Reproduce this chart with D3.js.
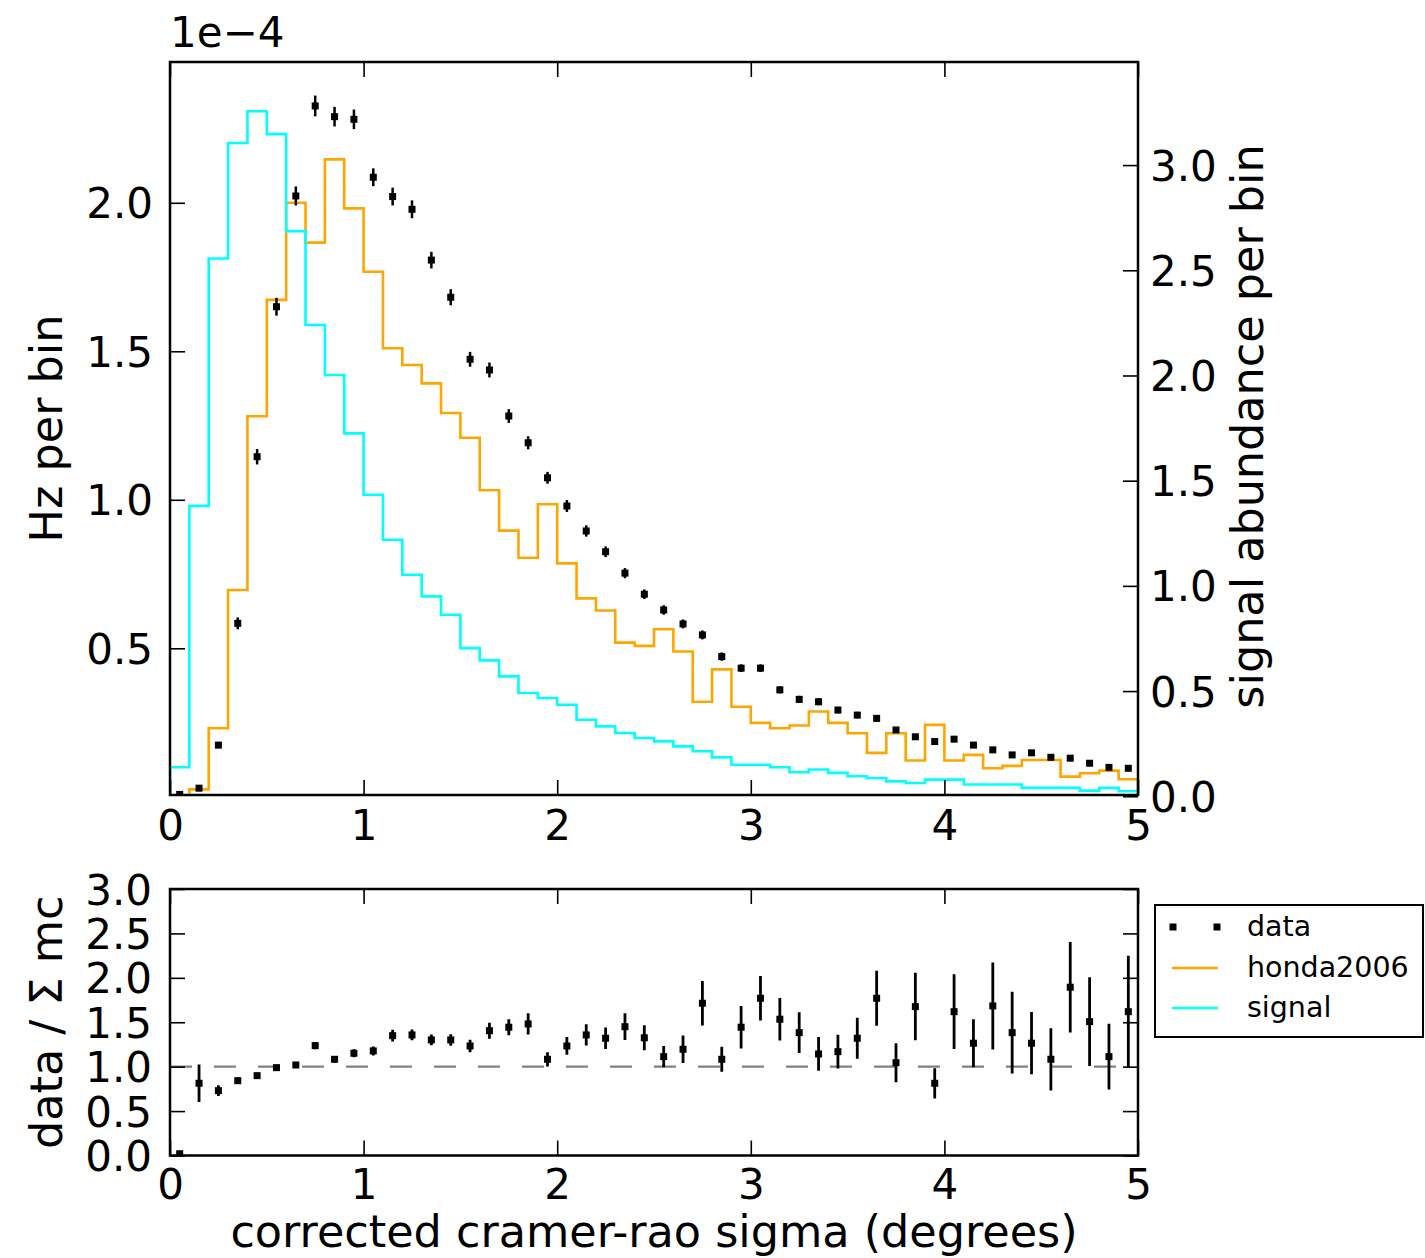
<!DOCTYPE html>
<html><head><meta charset="utf-8">
<script src="https://cdn.jsdelivr.net/npm/d3@7"></script>
<style>
body{margin:0;background:#fff}
text{font-family:"DejaVu Sans",sans-serif;fill:#000}
</style>
</head><body>
<svg id="c" width="1425" height="1258"></svg>
<script>
// ---------------- data ----------------
const binLow = [0.0,0.1,0.2,0.3,0.4,0.5,0.6,0.7,0.8,0.9,1.0,1.1,1.2,1.3,1.4,1.5,1.6,1.7,1.8,1.9,
  2.0,2.1,2.2,2.3,2.4,2.5,2.6,2.7,2.8,2.9,3.0,3.1,3.2,3.3,3.4,3.5,3.6,3.7,3.8,3.9,
  4.0,4.1,4.2,4.3,4.4,4.5,4.6,4.7,4.8,4.9];
const binWidth = 0.1;
const dataHz = [0.008,0.029,0.174,0.584,1.145,1.650,2.023,2.326,2.290,2.281,2.086,2.021,1.978,1.807,1.682,1.473,1.437,1.282,1.192,1.074,
  0.979,0.895,0.825,0.753,0.682,0.629,0.582,0.545,0.472,0.433,0.433,0.360,0.328,0.320,0.292,0.275,0.264,0.225,0.202,0.186,
  0.194,0.174,0.158,0.141,0.148,0.133,0.130,0.113,0.099,0.096];
const dataErr = [0.003,0.006,0.010,0.020,0.026,0.030,0.032,0.035,0.033,0.033,0.030,0.030,0.030,0.028,0.027,0.025,0.025,0.023,0.022,0.020,
  0.020,0.019,0.018,0.017,0.016,0.016,0.015,0.015,0.014,0.013,0.013,0.012,0.012,0.012,0.011,0.011,0.010,0.010,0.009,0.009,
  0.009,0.009,0.008,0.008,0.008,0.008,0.008,0.007,0.007,0.007];
const honda2006 = [0.005,0.025,0.231,0.696,1.281,1.673,2.000,1.866,2.146,1.981,1.768,1.510,1.454,1.392,1.292,1.209,1.032,0.896,0.805,0.985,
  0.786,0.668,0.627,0.519,0.508,0.564,0.489,0.320,0.429,0.303,0.249,0.231,0.240,0.287,0.249,0.214,0.148,0.214,0.122,0.242,
  0.122,0.141,0.096,0.104,0.124,0.124,0.068,0.079,0.088,0.059];
const signal = [0.138,1.380,2.556,3.105,3.256,3.147,2.686,2.240,2.002,1.725,1.433,1.219,1.053,0.950,0.863,0.704,0.646,0.570,0.491,0.467,
  0.435,0.364,0.332,0.301,0.277,0.261,0.237,0.214,0.185,0.150,0.150,0.138,0.114,0.127,0.111,0.095,0.087,0.071,0.063,0.079,
  0.079,0.056,0.056,0.056,0.040,0.040,0.040,0.027,0.040,0.024];
const ratio = [0.02,0.813,0.730,0.842,0.899,0.989,1.019,1.237,1.083,1.151,1.177,1.349,1.357,1.301,1.301,1.233,1.405,1.444,1.481,1.083,
  1.233,1.357,1.320,1.450,1.325,1.113,1.196,1.714,1.083,1.444,1.770,1.534,1.383,1.143,1.169,1.320,1.770,1.045,1.676,0.813,
  1.619,1.264,1.684,1.383,1.264,1.083,1.894,1.507,1.113,1.619];
const ratioErr = [0.0,0.21,0.06,0.035,0.03,0.03,0.03,0.04,0.035,0.045,0.05,0.066,0.06,0.06,0.065,0.07,0.09,0.09,0.12,0.08,
  0.10,0.12,0.12,0.15,0.14,0.12,0.155,0.25,0.14,0.24,0.25,0.24,0.23,0.19,0.19,0.23,0.31,0.22,0.38,0.17,
  0.42,0.27,0.49,0.46,0.35,0.35,0.51,0.50,0.37,0.63];
const xTicks = [0,1,2,3,4,5];
const leftTicks = [0.5,1.0,1.5,2.0];
const rightTicks = [0.0,0.5,1.0,1.5,2.0,2.5,3.0];
const ratioTicks = [0.0,0.5,1.0,1.5,2.0,2.5,3.0];
const legendItems = ["data","honda2006","signal"];

// ---------------- layout ----------------
const svg = d3.select("#c");
const L = 170, R = 1138, T1 = 62, B1 = 795, T2 = 889, B2 = 1155.5;
const FS = 42, LFS = 44.5;
const x = d3.scaleLinear().domain([0,5]).range([L,R]);
const yL = d3.scaleLinear().domain([0.006,2.474]).range([B1,T1]);
const yR = d3.scaleLinear().domain([0.006,3.49]).range([B1,T1]);
const yB = d3.scaleLinear().domain([0,3]).range([B2,T2]);

const fmt1 = d3.format(".1f");

function stepPts(vals){
  const pts = [[binLow[0],0]];
  vals.forEach((v,i)=>pts.push([binLow[i],v]));
  pts.push([binLow[binLow.length-1]+binWidth, vals[vals.length-1]]);
  pts.push([binLow[binLow.length-1]+binWidth, 0]);
  return pts;
}

const defs = svg.append("defs");
defs.append("clipPath").attr("id","clipMain").append("rect").attr("x",L).attr("y",T1).attr("width",R-L).attr("height",B1-T1);
defs.append("clipPath").attr("id","clipBot").append("rect").attr("x",L).attr("y",T2).attr("width",R-L).attr("height",B2-T2);

// ---------- main panel ----------
const gMain = svg.append("g").attr("clip-path","url(#clipMain)");
const lineL = d3.line().x(d=>x(d[0])).y(d=>yL(d[1])).curve(d3.curveStepAfter);
const lineR = d3.line().x(d=>x(d[0])).y(d=>yR(d[1])).curve(d3.curveStepAfter);

gMain.append("path").attr("d", lineL(stepPts(honda2006)))
  .attr("fill","none").attr("stroke","#FFA500").attr("stroke-width",2.6);
gMain.append("path").attr("d", lineR(stepPts(signal)))
  .attr("fill","none").attr("stroke","#00FFFF").attr("stroke-width",2.6);

const ctr = i => x(binLow[i] + binWidth/2);
gMain.selectAll("line.err").data(dataHz).enter().append("line")
  .attr("x1",(d,i)=>ctr(i)).attr("x2",(d,i)=>ctr(i))
  .attr("y1",(d,i)=>yL(d-dataErr[i])).attr("y2",(d,i)=>yL(d+dataErr[i]))
  .attr("stroke","#000").attr("stroke-width",2.5);
gMain.selectAll("rect.pt").data(dataHz).enter().append("rect")
  .attr("x",(d,i)=>ctr(i)-3.5).attr("y",d=>yL(d)-3.5).attr("width",7).attr("height",7).attr("fill","#000");

function styleAxis(g){
  g.select(".domain").remove();
  g.attr("font-size",FS).attr("font-family","DejaVu Sans");
  g.selectAll(".tick line").attr("stroke","#000").attr("stroke-width",1.6);
  g.selectAll(".tick text").attr("fill","#000");
}
svg.append("g").attr("transform",`translate(0,${B1})`)
  .call(d3.axisBottom(x).tickValues(xTicks).tickFormat(d3.format("d")).tickSizeInner(-15).tickSizeOuter(0).tickPadding(15))
  .call(styleAxis);
svg.append("g").attr("transform",`translate(0,${T1})`)
  .call(d3.axisTop(x).tickValues(xTicks).tickFormat("").tickSizeInner(-15).tickSizeOuter(0))
  .call(styleAxis);
svg.append("g").attr("transform",`translate(${L},0)`)
  .call(d3.axisLeft(yL).tickValues(leftTicks).tickFormat(fmt1).tickSizeInner(-15).tickSizeOuter(0).tickPadding(17))
  .call(styleAxis).selectAll(".tick text").attr("dy","0.36em");
svg.append("g").attr("transform",`translate(${R},0)`)
  .call(d3.axisRight(yR).tickValues(rightTicks).tickFormat(fmt1).tickSizeInner(-15).tickSizeOuter(0).tickPadding(12))
  .call(styleAxis).selectAll(".tick text").attr("dy","0.36em");

svg.append("rect").attr("x",L).attr("y",T1).attr("width",R-L).attr("height",B1-T1)
  .attr("fill","none").attr("stroke","#000").attr("stroke-width",2.5);

svg.append("text").attr("x",L).attr("y",47).attr("font-size",FS).text("1e\u22124");
svg.append("text").attr("transform",`translate(62,${(T1+B1)/2}) rotate(-90)`)
  .attr("text-anchor","middle").attr("font-size",LFS).text("Hz per bin");
svg.append("text").attr("transform",`translate(1263,${(T1+B1)/2 - 2}) rotate(-90)`)
  .attr("text-anchor","middle").attr("font-size",LFS).text("signal abundance per bin");

// ---------- ratio panel ----------
const gBot = svg.append("g").attr("clip-path","url(#clipBot)");
gBot.append("line").attr("x1",L).attr("x2",R).attr("y1",yB(1)).attr("y2",yB(1))
  .attr("stroke","#808080").attr("stroke-width",2.2).attr("stroke-dasharray","22,22");
gBot.selectAll("line.rerr").data(ratio).enter().append("line")
  .attr("x1",(d,i)=>ctr(i)).attr("x2",(d,i)=>ctr(i))
  .attr("y1",(d,i)=>yB(d-ratioErr[i])).attr("y2",(d,i)=>yB(d+ratioErr[i]))
  .attr("stroke","#000").attr("stroke-width",2.8);
gBot.selectAll("rect.rpt").data(ratio).enter().append("rect")
  .attr("x",(d,i)=>ctr(i)-3.5).attr("y",d=>yB(d)-3.5).attr("width",7).attr("height",7).attr("fill","#000");

svg.append("g").attr("transform",`translate(0,${B2})`)
  .call(d3.axisBottom(x).tickValues(xTicks).tickFormat(d3.format("d")).tickSizeInner(-15).tickSizeOuter(0).tickPadding(14))
  .call(styleAxis);
svg.append("g").attr("transform",`translate(0,${T2})`)
  .call(d3.axisTop(x).tickValues(xTicks).tickFormat("").tickSizeInner(-15).tickSizeOuter(0))
  .call(styleAxis);
svg.append("g").attr("transform",`translate(${L},0)`)
  .call(d3.axisLeft(yB).tickValues(ratioTicks).tickFormat(fmt1).tickSizeInner(-15).tickSizeOuter(0).tickPadding(18))
  .call(styleAxis).selectAll(".tick text").attr("dy","0.36em");
svg.append("g").attr("transform",`translate(${R},0)`)
  .call(d3.axisRight(yB).tickValues(ratioTicks).tickFormat("").tickSizeInner(-15).tickSizeOuter(0))
  .call(styleAxis);
svg.append("rect").attr("x",L).attr("y",T2).attr("width",R-L).attr("height",B2-T2)
  .attr("fill","none").attr("stroke","#000").attr("stroke-width",2.5);

svg.append("text").attr("transform",`translate(62,${(T2+B2)/2}) rotate(-90)`)
  .attr("text-anchor","middle").attr("font-size",LFS).text("data / \u03A3 mc");
svg.append("text").attr("x",(L+R)/2).attr("y",1247).attr("text-anchor","middle")
  .attr("font-size",LFS).text("corrected cramer-rao sigma (degrees)");

// ---------- legend ----------
const lg = svg.append("g");
lg.append("rect").attr("x",1155).attr("y",905).attr("width",268).attr("height",132)
  .attr("fill","#fff").attr("stroke","#000").attr("stroke-width",2);
const rowY = [927, 968, 1008];
[1173,1217].forEach(px=>lg.append("rect").attr("x",px-3.5).attr("y",rowY[0]-3.5).attr("width",7).attr("height",7).attr("fill","#000"));
lg.append("line").attr("x1",1172).attr("x2",1218).attr("y1",rowY[1]).attr("y2",rowY[1]).attr("stroke","#FFA500").attr("stroke-width",2.6);
lg.append("line").attr("x1",1172).attr("x2",1218).attr("y1",rowY[2]).attr("y2",rowY[2]).attr("stroke","#00FFFF").attr("stroke-width",2.6);
lg.selectAll("text.lt").data(legendItems).enter().append("text")
  .attr("x",1247).attr("y",(d,i)=>rowY[i]+9).attr("font-size",28.5).text(d=>d);
</script>
</body></html>
